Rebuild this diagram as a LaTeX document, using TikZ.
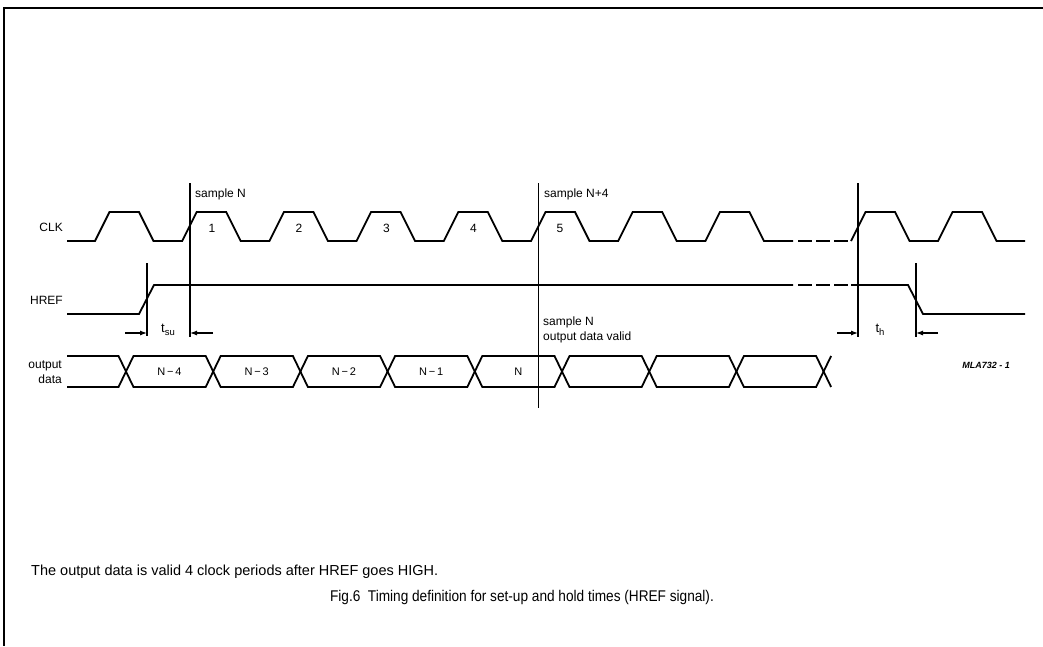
\documentclass[tikz,border=0pt]{standalone}
\usepackage{fontspec}
\setmainfont{Liberation Sans}
\usetikzlibrary{arrows.meta}
\tikzset{
  wave/.style={line width=1.8pt, line join=miter},
  wavedash/.style={line width=1.8pt, dash pattern=on 13.5pt off 4.5pt},
  marker/.style={line width=1.1pt},
  dimarrow/.style={line width=1.1pt, -{Latex[length=7pt,width=5pt]}},
  lbl/.style={font=\fontsize{12}{15}\selectfont, inner sep=0pt},
  seglbl/.style={font=\fontsize{11}{13}\selectfont, inner sep=0pt},
}
\begin{document}
\begin{tikzpicture}[x=1pt,y=-1pt]
\useasboundingbox (0,0) rectangle (1043,646);
% frame
\draw[line width=2pt] (1043,8) -- (4,8) -- (4,646);

% CLK
\draw[wave] (67,241)
  foreach \k in {0,...,7} { -- ({95+\k*87.2},241) -- ({109.5+\k*87.2},212) -- ({139+\k*87.2},212) -- ({153.5+\k*87.2},241) }
  -- (793,241);
\draw[wavedash] (798,241) -- (848,241);
\draw[wave] (851,241) -- (865.5,212) -- (895,212) -- (909.5,241) -- (938,241) -- (952.5,212) -- (982,212) -- (996.5,241) -- (1025,241);

% HREF
\draw[wave] (67,314) -- (139,314) -- (154,285) -- (793,285);
\draw[wavedash] (798,285) -- (848,285);
\draw[wave] (851,285) -- (908,285) -- (923,314) -- (1025,314);

% output data bus
\draw[wave] (67,356) -- (118.5,356) -- (126,371.5) -- (118.5,387) -- (67,387);
\foreach \i in {0,...,7} {
  \draw[wave] ({126+\i*87.2},371.5) -- ({133.5+\i*87.2},356) -- ({205.7+\i*87.2},356) -- ({213.2+\i*87.2},371.5) -- ({205.7+\i*87.2},387) -- ({133.5+\i*87.2},387) -- cycle;
}
\draw[wave] (831.1,356) -- (823.6,371.5) -- (831.1,387);

% markers
\coordinate (tsuT) at (147,263); \coordinate (tsuB) at (147,336);
\coordinate (snT) at (190,183);  \coordinate (snB) at (190,337);
\coordinate (sn4T) at (538.5,183); \coordinate (sn4B) at (538.5,408);
\coordinate (thAT) at (858,183); \coordinate (thAB) at (858,337);
\coordinate (thBT) at (916,263); \coordinate (thBB) at (916,337);
\draw[marker] (tsuT) -- (tsuB);
\draw[marker] (snT) -- (snB);
\draw[marker] (sn4T) -- (sn4B);
\draw[marker] (thAT) -- (thAB);
\draw[marker] (thBT) -- (thBB);

% dimension arrows
\coordinate (a1s) at (125,333); \coordinate (a1e) at (147,333);
\coordinate (a2s) at (213,333); \coordinate (a2e) at (190,333);
\coordinate (a3s) at (837,333); \coordinate (a3e) at (858,333);
\coordinate (a4s) at (938,333); \coordinate (a4e) at (916,333);
\draw[dimarrow] (a1s) -- (a1e);
\draw[dimarrow] (a2s) -- (a2e);
\draw[dimarrow] (a3s) -- (a3e);
\draw[dimarrow] (a4s) -- (a4e);

% labels
\node[lbl, anchor=east] (clk) at (63,227) {CLK};
\node[lbl, anchor=east] (href) at (63,300) {HREF};
\node[lbl, anchor=east, align=right] (od) at (62,372) {output\\data};
\node[lbl, anchor=west] (sN) at (195,194) {sample N};
\node[lbl, anchor=west] (sN4) at (544,194) {sample N+4};
\node[lbl, anchor=north west, align=left] (valid) at (543,317) {sample N\\output data valid};
\node[lbl] (p1) at (212,228) {1};
\node[lbl] (p2) at (299,228) {2};
\node[lbl] (p3) at (386.5,228) {3};
\node[lbl] (p4) at (473.5,228) {4};
\node[lbl] (p5) at (560,228) {5};
\node[seglbl] (d1) at (169.5,372) {N\,−\,4};
\node[seglbl] (d2) at (256.7,372) {N\,−\,3};
\node[seglbl] (d3) at (343.9,372) {N\,−\,2};
\node[seglbl] (d4) at (431.1,372) {N\,−\,1};
\node[seglbl] (d5) at (518.3,372) {N};
\node[font=\fontsize{13}{13}\selectfont, inner sep=0pt] (tsu) at (168,330) {t\raisebox{-3.5pt}{\fontsize{9.5}{9.5}\selectfont su}};
\node[font=\fontsize{13}{13}\selectfont, inner sep=0pt] (th) at (880,330) {t\raisebox{-3.5pt}{\fontsize{9.5}{9.5}\selectfont h}};
\node[font=\fontsize{9}{9}\selectfont\bfseries\itshape, inner sep=0pt] (mla) at (986,365) {MLA732 - 1};
\node[font=\fontsize{14.5}{16}\selectfont, inner sep=0pt, anchor=west] (note) at (31,572) {The output data is valid 4 clock periods after HREF goes HIGH.};
\node[font=\fontsize{15.5}{17}\selectfont, inner sep=0pt] (cap) at (522,597) {\scalebox{0.88}[1]{Fig.6\hspace{0.55em}Timing definition for set-up and hold times (HREF signal).}};
\end{tikzpicture}
\end{document}
